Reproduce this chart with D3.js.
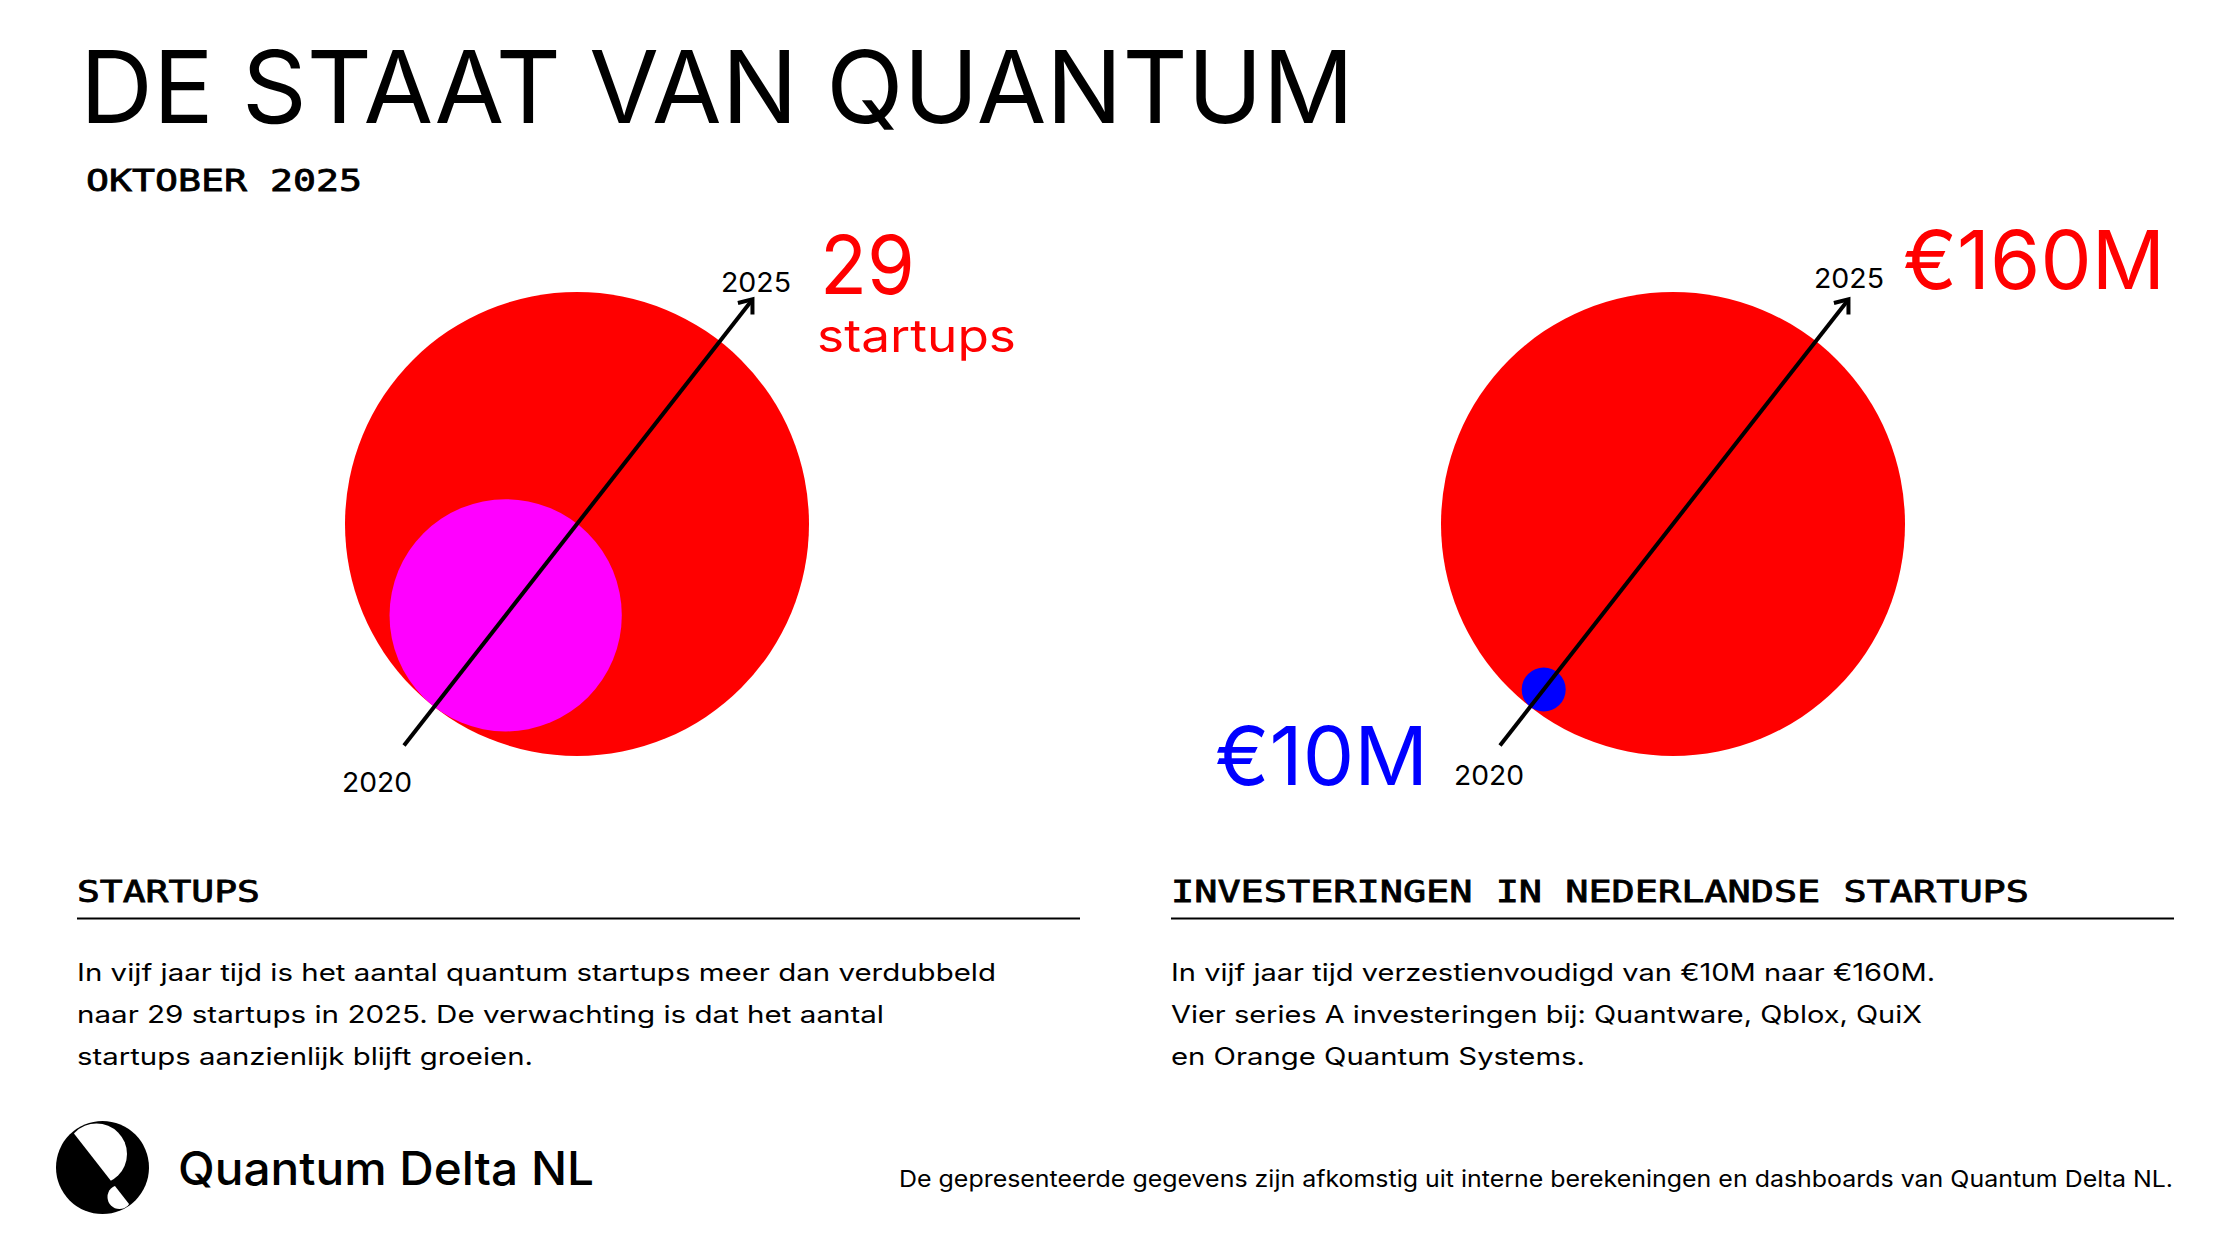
<!DOCTYPE html>
<html>
<head>
<meta charset="utf-8">
<script src="https://cdn.jsdelivr.net/npm/d3@7"></script>
<style>
  html, body { margin: 0; padding: 0; background: #fff; }
  svg { display: block; }
</style>
</head>
<body>
<script>
// ---------------- DATA ----------------
const years = ["2020", "2025"];
const startupCounts = [14, 29];            // number of quantum startups
const investmentsEurM = [10, 160];         // investments in € millions
const startupValueLabels = ["", "29"];
const investmentValueLabels = ["€10M", "€160M"];
const panelTitles = ["STARTUPS", "INVESTERINGEN IN NEDERLANDSE STARTUPS"];
const panelTexts = [
  ["In vijf jaar tijd is het aantal quantum startups meer dan verdubbeld",
   "naar 29 startups in 2025. De verwachting is dat het aantal",
   "startups aanzienlijk blijft groeien."],
  ["In vijf jaar tijd verzestienvoudigd van €10M naar €160M.",
   "Vier series A investeringen bij: Quantware, Qblox, QuiX",
   "en Orange Quantum Systems."]
];
const titleText = "DE STAAT VAN QUANTUM";
const subtitleText = "OKTOBER 2025";
const brandText = "Quantum Delta NL";
const footnoteText = "De gepresenteerde gegevens zijn afkomstig uit interne berekeningen en dashboards van Quantum Delta NL.";

// ---------------- LAYOUT ----------------
const W = 2226, H = 1241;
const SANS = "Inter, 'Noto Sans', sans-serif";
const MONO = "'DejaVu Sans Mono', monospace";
const RED = "#ff0000", MAGENTA = "#ff00ff", BLUE = "#0000ff";
const angle = 52 * Math.PI / 180;
const dir = [Math.cos(angle), -Math.sin(angle)];

const svg = d3.select("body").append("svg")
  .attr("width", W).attr("height", H)
  .attr("viewBox", `0 0 ${W} ${H}`);
svg.append("rect").attr("width", W).attr("height", H).attr("fill", "#fff");

function txt(g, s, x, y, o) {
  const t = g.append("text").attr("x", x).attr("y", y).text(s)
    .attr("font-family", o.family || SANS)
    .attr("font-size", o.size)
    .attr("font-weight", o.weight || 400)
    .attr("fill", o.fill || "#000");
  if (o.anchor) t.attr("text-anchor", o.anchor);
  if (o.ls) t.attr("letter-spacing", o.ls);
  if (o.stroke) t.attr("stroke", o.fill || "#000").attr("stroke-width", o.stroke);
  if (o.width) t.attr("textLength", o.width).attr("lengthAdjust", "spacingAndGlyphs");
  return t;
}

// Title
txt(svg, titleText, 80, 123, {size: 100, width: 1274});
txt(svg, subtitleText, 86, 191, {size: 31, family: MONO, width: 276, stroke: 0.8});

// ---------------- BUBBLE PANELS ----------------
function panel(cfg) {
  const g = svg.append("g");
  const r = d3.scaleLinear().domain([0, d3.max(cfg.values)]).range([8, 232]);
  const R = r(cfg.values[1]);
  const [cx, cy] = cfg.center;
  const rIn = r(cfg.values[0]);
  const off = R - rIn;
  const circles = [
    {x: cx, y: cy, r: R, fill: RED},
    {x: cx - off * dir[0], y: cy - off * dir[1], r: rIn, fill: cfg.innerColor}
  ];
  g.selectAll("circle").data(circles).join("circle")
    .attr("cx", d => d.x).attr("cy", d => d.y).attr("r", d => d.r)
    .attr("fill", d => d.fill);

  // arrow through both centres
  const s = [cx - 281 * dir[0], cy - 281 * dir[1]];
  const e = [cx + 285 * dir[0], cy + 285 * dir[1]];
  g.append("line").attr("x1", s[0]).attr("y1", s[1]).attr("x2", e[0]).attr("y2", e[1])
    .attr("stroke", "#000").attr("stroke-width", 4);
  const back = Math.atan2(-dir[1], -dir[0]);
  const a = 38 * Math.PI / 180, L = 15;
  const p1 = [e[0] + L * Math.cos(back + a), e[1] + L * Math.sin(back + a)];
  const p2 = [e[0] + L * Math.cos(back - a), e[1] + L * Math.sin(back - a)];
  g.append("path").attr("d", `M${p1}L${e}L${p2}`)
    .attr("fill", "none").attr("stroke", "#000").attr("stroke-width", 4)
    .attr("stroke-linecap", "butt").attr("stroke-linejoin", "miter");

  // year labels
  txt(g, years[0], cfg.y0[0], cfg.y0[1], {size: 27, width: 70});
  txt(g, years[1], cfg.y1[0], cfg.y1[1], {size: 27, width: 70});
  cfg.extra(g);
}

panel({
  values: startupCounts, center: [577, 524], innerColor: MAGENTA,
  y0: [342, 792], y1: [721, 292],
  extra: g => {
    txt(g, startupValueLabels[1], 820, 294, {size: 81, fill: RED, width: 95});
    txt(g, "startups", 817, 352, {size: 45, fill: RED, width: 199});
  }
});

panel({
  values: investmentsEurM, center: [1673, 524], innerColor: BLUE,
  y0: [1454, 785], y1: [1814, 288],
  extra: g => {
    txt(g, investmentValueLabels[1], 1903, 289, {size: 81, fill: RED, width: 262});
    txt(g, investmentValueLabels[0], 1215, 785, {size: 81, fill: BLUE, width: 213});
  }
});

// ---------------- TEXT PANELS ----------------
const panelX = [77, 1171];
const headWidths = [183, 858];
const lineEnds = [[996, 884, 533], [1935, 1922, 1585]];
const baselines = [981, 1023, 1065];
panelX.forEach((x, i) => {
  const g = svg.append("g");
  txt(g, panelTitles[i], x, 902, {size: 30, family: MONO, width: headWidths[i], stroke: 0.8});
  g.append("rect").attr("x", x).attr("y", 917.5).attr("width", 1003).attr("height", 2).attr("fill", "#000");
  panelTexts[i].forEach((line, j) => {
    txt(g, line, x, baselines[j], {size: 24, width: lineEnds[i][j] - x});
  });
});

// ---------------- FOOTER ----------------
const logo = svg.append("g");
const defs = svg.append("defs");
const lc = [102.5, 1167.5], lr = 46.5;
const dx = Math.cos(angle), dy = Math.sin(angle);
const p0 = [73.3, 1132.7];
const far = 400;
const nx = dy, ny = -dx;
const lineA = [p0[0] - far * dx, p0[1] - far * dy], lineB = [p0[0] + far * dx, p0[1] + far * dy];
defs.append("clipPath").attr("id", "rightSide").append("path")
  .attr("d", `M${lineA}L${lineB}L${[lineB[0] + far * nx, lineB[1] + far * ny]}L${[lineA[0] + far * nx, lineA[1] + far * ny]}Z`);
defs.append("clipPath").attr("id", "leftSide").append("path")
  .attr("d", `M${lineA}L${lineB}L${[lineB[0] - far * nx, lineB[1] - far * ny]}L${[lineA[0] - far * nx, lineA[1] - far * ny]}Z`);
defs.append("clipPath").attr("id", "disk").append("circle").attr("cx", lc[0]).attr("cy", lc[1]).attr("r", lr);
logo.append("circle").attr("cx", lc[0]).attr("cy", lc[1]).attr("r", lr).attr("fill", "#000");
const inner = logo.append("g").attr("clip-path", "url(#disk)");
inner.append("circle").attr("cx", 96.5).attr("cy", 1154).attr("r", 30.5).attr("fill", "#fff").attr("clip-path", "url(#rightSide)");
inner.append("circle").attr("cx", 119.5).attr("cy", 1197).attr("r", 12).attr("fill", "#fff").attr("clip-path", "url(#leftSide)");

txt(svg, brandText, 178, 1185, {size: 46, weight: 500, width: 416});
txt(svg, footnoteText, 899, 1187, {size: 23, width: 1274});
</script>
</body>
</html>
